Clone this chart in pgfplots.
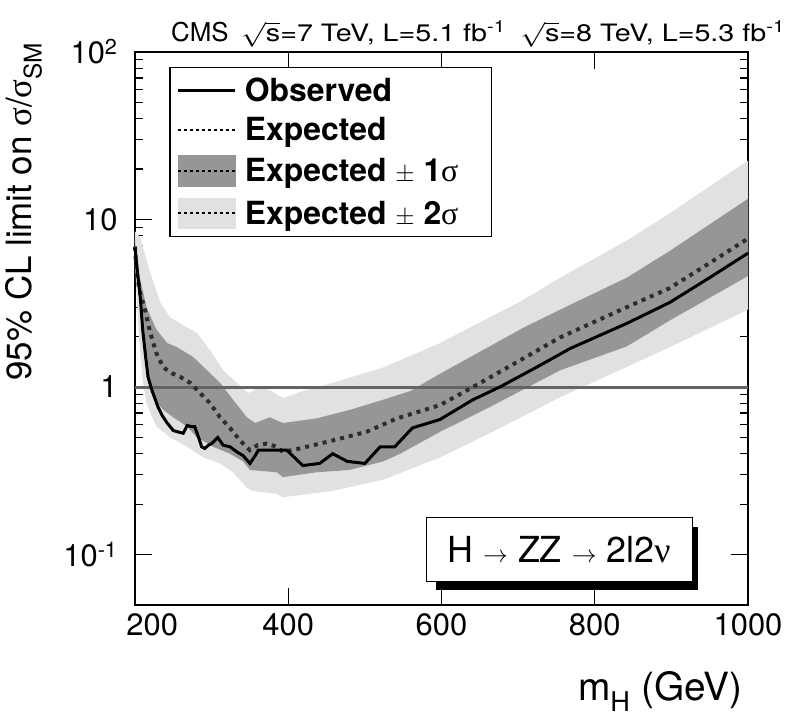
\documentclass[border=0pt]{standalone}
\usepackage{pgfplots}
\pgfplotsset{compat=1.18}
\usepackage{pgfplotstable}
\usepackage{graphicx}
\usepackage{fontspec}
\setmainfont{TeX Gyre Heros}
\newfontfamily\grk{Liberation Serif}

\definecolor{bandone}{RGB}{150,150,150}
\definecolor{bandtwo}{RGB}{225,225,225}
\definecolor{expcol}{RGB}{45,45,45}
\definecolor{onecol}{RGB}{100,100,100}

\pgfplotstableread{
m v
200 6.8
204 4.5
207 3.4
210 2.2
214 1.5
217 1.15
222 0.96
230 0.76
236 0.67
242 0.61
250 0.55
256 0.54
263 0.53
268 0.59
274 0.58
278 0.58
283 0.50
287 0.44
291 0.43
296 0.45
300 0.46
308 0.50
315 0.45
324 0.44
333 0.41
341 0.39
350 0.35
357 0.39
361 0.42
370 0.42
398 0.42
419 0.34
441 0.35
458 0.40
477 0.36
500 0.35
520 0.44
539 0.44
562 0.57
598 0.64
641 0.84
676 1.0
725 1.32
768 1.70
842 2.4
898 3.2
950 4.5
1000 6.3
}\obs

\pgfplotstableread{
m v
200 6.9
202 4.8
207 3.6
213 2.9
220 2.1
228 1.59
237 1.31
248 1.21
259 1.15
272 1.06
285 0.92
298 0.80
311 0.66
324 0.57
337 0.48
350 0.42
360 0.45
372 0.46
385 0.44
393 0.41
415 0.43
458 0.48
502 0.54
542 0.65
598 0.78
641 1.0
685 1.3
755 1.98
842 3.0
898 3.9
950 5.5
1000 7.7
}\expd

\begin{document}
\begin{tikzpicture}
\begin{axis}[
  scale only axis,
  width=613bp, height=553bp,
  xmin=200, xmax=1000,
  ymode=log, ymin=0.05, ymax=100,
  xtick={200,400,600,800,1000},
  xticklabels={\hphantom{00}200,400,600,800,1000},
  ytick={0.1,1,10,100},
  yticklabels={10\textsuperscript{-1},1,10,10\textsuperscript{2}},
  tick label style={font=\fontsize{31}{31}\selectfont},
  xticklabel style={yshift=-5bp},
  yticklabel style={xshift=-14bp},
  major tick length=17bp,
  minor tick length=8bp,
  every tick/.style={black, line width=1.2bp},
  axis line style={line width=1.5bp},
  tick align=inside,
  clip=false,
  legend image code/.code={\draw[#1] (0bp,0bp) -- (57bp,0bp);},
  legend style={
    at={(rel axis cs:0.056,0.9729)}, anchor=north west,
    draw=black, line width=1.2bp,
    font=\fontsize{32}{35}\selectfont\bfseries,
    cells={anchor=west},
    row sep=11bp,
    inner xsep=7bp, inner ysep=8bp,
    /tikz/every odd column/.append style={column sep=6bp},
  },
]
% 2 sigma band
\addplot[fill=bandtwo, draw=none, forget plot] coordinates {
(200,8.5)(207,7.8)(220,4.8)(233,3.2)(246,2.6)(259,2.4)(281,2.1)(298,1.66)(315,1.26)(333,1.06)(348,0.92)(361,0.99)(376,0.96)(393,0.86)(420,0.95)(458,1.06)(524,1.31)(598,1.83)(706,3.3)(755,4.5)(842,7.5)(898,10.9)(1000,22.5)
(1000,2.9)(898,1.73)(842,1.32)(755,0.87)(663,0.53)(598,0.38)(524,0.28)(458,0.24)(393,0.22)(385,0.23)(354,0.24)(346,0.25)(328,0.31)(311,0.35)(289,0.38)(268,0.44)(246,0.50)(228,0.58)(215,0.80)(210,1.1)(205,2.0)(200,5.5)
} -- cycle;
% 1 sigma band
\addplot[fill=bandone, draw=none, forget plot] coordinates {
(200,7.5)(204,5.0)(215,3.0)(228,2.2)(242,1.83)(255,1.73)(276,1.51)(294,1.26)(311,1.06)(328,0.84)(346,0.66)(357,0.61)(376,0.66)(393,0.61)(437,0.65)(480,0.73)(524,0.84)(560,0.95)(598,1.2)(663,1.75)(706,2.25)(755,2.9)(842,4.5)(898,6.5)(1000,13.3)
(1000,4.6)(898,2.5)(842,1.75)(755,1.26)(663,0.76)(598,0.54)(546,0.40)(524,0.36)(480,0.32)(437,0.31)(393,0.29)(385,0.31)(350,0.32)(341,0.36)(324,0.40)(302,0.44)(281,0.50)(268,0.58)(250,0.66)(237,0.73)(223,0.87)(215,1.39)(209,2.4)(200,6.2)
} -- cycle;
% SM line
\addplot[onecol, line width=3bp, forget plot] coordinates {(200,1)(1000,1)};
% expected
\addplot[expcol, line width=4bp, dash pattern=on 4bp off 5bp, forget plot] table[x=m,y=v] {\expd};
% observed
\addplot[black, line width=3bp, forget plot] table[x=m,y=v] {\obs};

\addlegendimage{black, line width=3bp}
\addlegendimage{black, line width=2.5bp, dash pattern=on 3bp off 3bp}
\addlegendimage{legend image code/.code={\fill[bandone] (0bp,-15bp) rectangle (57bp,15bp); \draw[black, line width=2.5bp, dash pattern=on 3bp off 3bp] (0bp,0bp) -- (57bp,0bp);}}
\addlegendimage{legend image code/.code={\fill[bandtwo] (0bp,-15bp) rectangle (57bp,15bp); \draw[black, line width=2.5bp, dash pattern=on 3bp off 3bp] (0bp,0bp) -- (57bp,0bp);}}
\legend{Observed, Expected, Expected $\pm$ 1{\grk\mdseries σ}, Expected $\pm$ 2{\grk\mdseries σ}\hspace*{24bp}}

\coordinate (SW) at (rel axis cs:0,0);
\coordinate (NE) at (rel axis cs:1,1);
\end{axis}
% y label
\node[rotate=90, anchor=base east, inner sep=0pt, font=\fontsize{35}{35}\selectfont]
  at ([shift={(-103bp,563bp)}]SW) {95\% CL limit on {\grk σ}/{\grk σ}\textsubscript{SM}};
% x label
\node[anchor=base east, inner sep=0pt, font=\fontsize{39}{39}\selectfont]
  at ([shift={(608bp,-95bp)}]SW) {m\textsubscript{H} (GeV)};
% top text
\node[anchor=base west, inner sep=0pt, font=\fontsize{26}{26}\selectfont]
  at ([shift={(36bp,563bp)}]SW) {CMS};
\node[anchor=base west, inner sep=0pt, font=\fontsize{24}{24}\selectfont]
  at ([shift={(106bp,563bp)}]SW) {\scalebox{1.2}[1]{$\sqrt{\mbox{s}}$=7 TeV, L=5.1 fb\textsuperscript{-1}}};
\node[anchor=base east, inner sep=0pt, font=\fontsize{24}{24}\selectfont]
  at ([shift={(650bp,563bp)}]SW) {\scalebox{1.2}[1]{$\sqrt{\mbox{s}}$=8 TeV, L=5.3 fb\textsuperscript{-1}}};
% channel box with shadow
\fill[black] ([shift={(301bp,15bp)}]SW) rectangle ([shift={(563bp,78bp)}]SW);
\draw[black, fill=white, line width=1bp] ([shift={(291bp,23bp)}]SW) rectangle ([shift={(557bp,87bp)}]SW);
\node[font=\fontsize{36}{36}\selectfont, inner sep=0pt] at ([shift={(424bp,55bp)}]SW)
  {H $\rightarrow$ ZZ $\rightarrow$ 2l2{\grk ν}};
% bounding box
\pgfresetboundingbox
\path ([shift={(-135bp,-112bp)}]SW) rectangle ([shift={(39bp,52bp)}]NE);
\end{tikzpicture}
\end{document}
